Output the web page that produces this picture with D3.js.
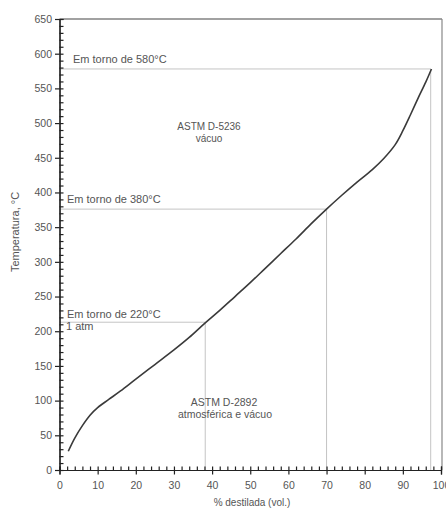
<!DOCTYPE html>
<html>
<head>
<meta charset="utf-8">
<script src="https://cdn.jsdelivr.net/npm/d3@7/dist/d3.min.js"></script>
<style>
  html, body { margin: 0; padding: 0; background: #ffffff; }
  svg { display: block; font-family: "Liberation Sans", Arial, Helvetica, sans-serif; }
</style>
</head>
<body>
<svg id="chart" width="446" height="512"></svg>
<script>
// ---- data ----
const pctDistilled = [2.3, 4, 6, 8, 10, 13, 16, 20, 25, 30, 34, 38.2, 42, 46, 50, 54, 58, 62, 66, 70, 74, 78, 82, 85, 88, 90, 92, 94, 96, 97.5];
const temperature  = [27, 46, 64, 79, 90, 102, 114, 131, 152, 173, 191, 212, 230, 250, 270, 291, 312, 333, 355, 376, 396, 415, 433, 449, 469, 489, 512, 536, 559, 578];

const refTemps = [578, 376, 213];
const refPcts  = [97.3, 70, 38.2];
const refLabels = ["Em torno de 580°C", "Em torno de 380°C", "Em torno de 220°C"];

const yMajorTicks = [0, 50, 100, 150, 200, 250, 300, 350, 400, 450, 500, 550, 600, 650];
const xMajorTicks = [0, 10, 20, 30, 40, 50, 60, 70, 80, 90, 100];

const yTitle = "Temperatura, °C";
const xTitle = "% destilada (vol.)";
const regionUpper = ["ASTM D-5236", "vácuo"];
const regionLower = ["ASTM D-2892", "atmosférica e vácuo"];
const atmLabel = "1 atm";

// ---- layout ----
const svg = d3.select("#chart");
const mLeft = 59.5, mRight = 441, mTop = 19, mBottom = 470;

const x = d3.scaleLinear().domain([0, 100]).range([mLeft, mRight]);
const y = d3.scaleLinear().domain([0, 650]).range([mBottom, mTop]);

const textColor = "#555";

// frame: top and right
svg.append("line").attr("x1", mLeft).attr("x2", mRight + 1).attr("y1", mTop).attr("y2", mTop)
  .attr("stroke", "#444").attr("stroke-width", 1.2);
svg.append("line").attr("x1", mRight + 1).attr("x2", mRight + 1).attr("y1", mTop).attr("y2", mBottom)
  .attr("stroke", "#888").attr("stroke-width", 1.2);

// reference lines
const refG = svg.append("g").attr("stroke", "#c4c4c4").attr("stroke-width", 1).attr("fill", "none");
refTemps.forEach((t, i) => {
  refG.append("line").attr("x1", x(0)).attr("x2", x(refPcts[i])).attr("y1", y(t)).attr("y2", y(t));
  refG.append("line").attr("x1", x(refPcts[i])).attr("x2", x(refPcts[i])).attr("y1", y(t)).attr("y2", y(0));
});

// axes
const yMinor = d3.range(0, 651, 10);
const xMinor = d3.range(0, 101, 2);

const yAxis = svg.append("g").attr("transform", `translate(${mLeft},0)`)
  .call(d3.axisLeft(y).tickValues(yMajorTicks).tickSize(4.5).tickPadding(3).tickFormat(d3.format("d")));
const yAxisIn = svg.append("g").attr("transform", `translate(${mLeft},0)`)
  .call(d3.axisRight(y).tickValues(yMinor).tickSize(4).tickFormat(""));
const xAxis = svg.append("g").attr("transform", `translate(0,${mBottom})`)
  .call(d3.axisBottom(x).tickValues(xMajorTicks).tickSize(4.5).tickPadding(7).tickFormat(d3.format("d")));
const xAxisIn = svg.append("g").attr("transform", `translate(0,${mBottom})`)
  .call(d3.axisTop(x).tickValues(xMinor).tickSize(3.5).tickFormat(""));

[yAxis, yAxisIn, xAxis, xAxisIn].forEach(g => {
  g.select(".domain").attr("stroke", "#222").attr("stroke-width", 1.2);
  g.selectAll(".tick line").attr("stroke", "#222").attr("stroke-width", 1.2);
  g.selectAll(".tick text").attr("fill", textColor).style("font-size", "10.5px")
    .style("font-family", "'Liberation Sans', Arial, sans-serif");
});

// curve
const pts = pctDistilled.map((p, i) => [p, temperature[i]]);
svg.append("path").datum(pts)
  .attr("fill", "none").attr("stroke", "#3a3a3a").attr("stroke-width", 1.6)
  .attr("d", d3.line().x(d => x(d[0])).y(d => y(d[1])).curve(d3.curveCatmullRom.alpha(0.5)));

// annotation labels
const labelPos = [[73, 63], [67, 203], [67, 318]];
refLabels.forEach((t, i) => {
  svg.append("text").attr("x", labelPos[i][0]).attr("y", labelPos[i][1])
    .attr("fill", textColor).style("font-size", "11px").text(t);
});
svg.append("text").attr("x", 66).attr("y", 330).attr("fill", textColor).style("font-size", "11px").text(atmLabel);

// region labels
svg.append("text").attr("x", 209).attr("y", 130).attr("text-anchor", "middle")
  .attr("fill", textColor).style("font-size", "10px").text(regionUpper[0]);
svg.append("text").attr("x", 209).attr("y", 142).attr("text-anchor", "middle")
  .attr("fill", textColor).style("font-size", "10px").text(regionUpper[1]);
svg.append("text").attr("x", 224).attr("y", 406).attr("text-anchor", "middle")
  .attr("fill", textColor).style("font-size", "10.5px").text(regionLower[0]);
svg.append("text").attr("x", 225).attr("y", 418).attr("text-anchor", "middle")
  .attr("fill", textColor).style("font-size", "10.5px").text(regionLower[1]);

// axis titles
svg.append("text").attr("transform", "translate(19,232) rotate(-90)").attr("text-anchor", "middle")
  .attr("fill", textColor).style("font-size", "11px").text(yTitle);
svg.append("text").attr("x", 252).attr("y", 506).attr("text-anchor", "middle")
  .attr("fill", textColor).style("font-size", "10px").text(xTitle);
</script>
</body>
</html>
